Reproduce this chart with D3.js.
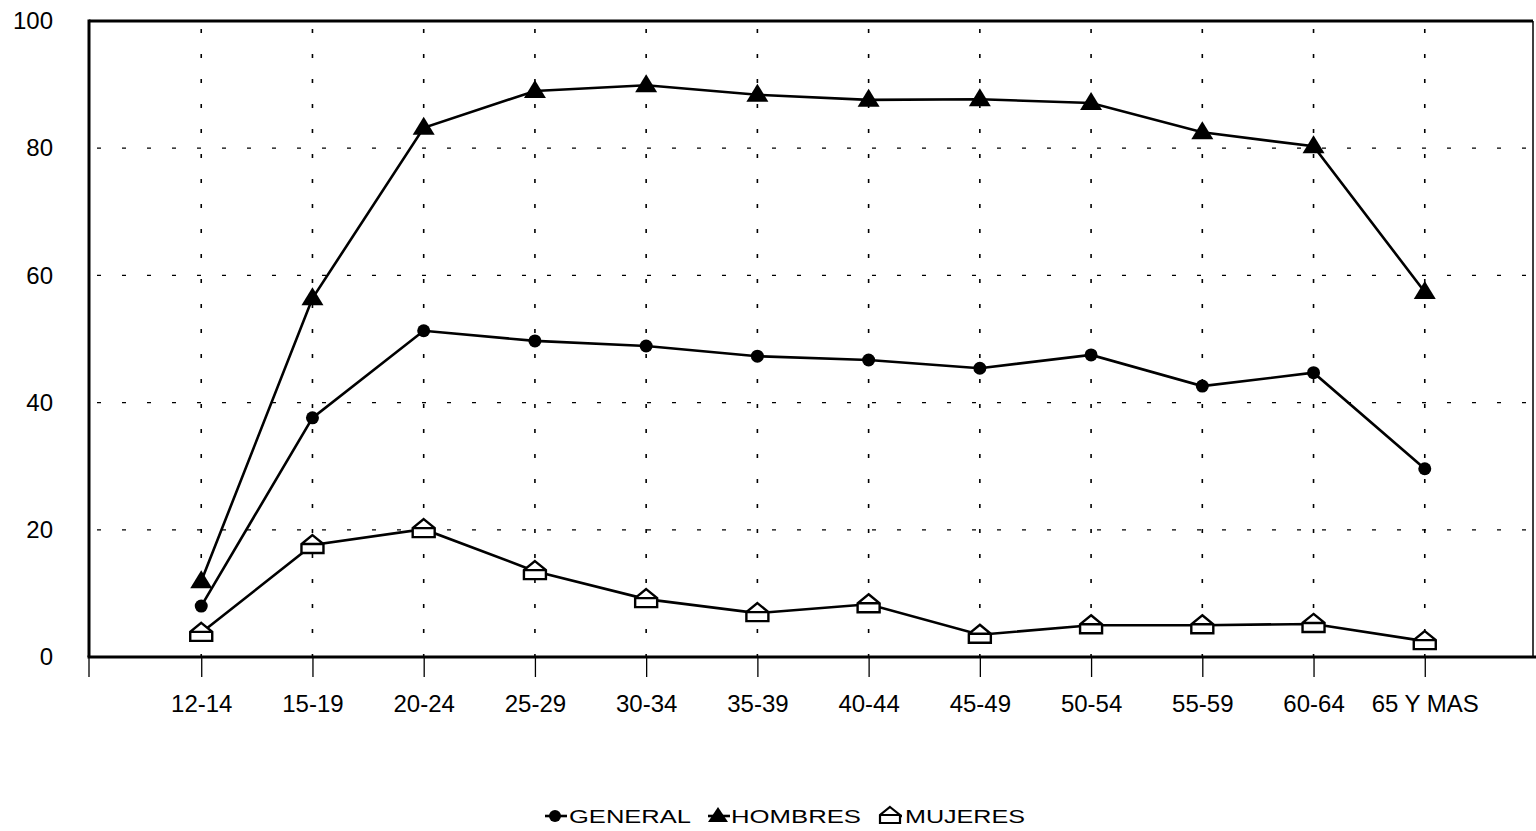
<!DOCTYPE html>
<html>
<head>
<meta charset="utf-8">
<script src="https://cdn.jsdelivr.net/npm/d3@7"></script>
<style>
html,body{margin:0;padding:0;background:#fff;}
svg{display:block;font-family:"Liberation Sans",Arial,sans-serif;}
</style>
</head>
<body>
<svg id="chart" width="1536" height="831"></svg>
<script>
const categories = ["12-14","15-19","20-24","25-29","30-34","35-39","40-44","45-49","50-54","55-59","60-64","65 Y MAS"];
const general = [8.0, 37.6, 51.3, 49.7, 48.9, 47.3, 46.7, 45.4, 47.5, 42.6, 44.7, 29.6];
const hombres = [11.9, 56.4, 83.2, 89.0, 89.9, 88.4, 87.6, 87.7, 87.1, 82.5, 80.3, 57.4];
const mujeres = [3.8, 17.6, 20.1, 13.5, 9.1, 6.9, 8.3, 3.5, 5.0, 5.0, 5.2, 2.5];
const yTicks = [0, 20, 40, 60, 80, 100];
const seriesNames = ["GENERAL", "HOMBRES", "MUJERES"];

const svg = d3.select("#chart");
const pLeft = 89, pRight = 1533, pTop = 21, pBottom = 657;

const x = d3.scalePoint().domain(categories).range([90, 1536]).padding(1);
const y = d3.scaleLinear().domain([0, 100]).range([pBottom, pTop]);

// gridlines
const grid = svg.append("g");
grid.selectAll("line.h").data(yTicks.filter(d => d > 0 && d < 100)).join("line")
  .attr("x1", pLeft).attr("x2", pRight)
  .attr("y1", d => y(d)).attr("y2", d => y(d))
  .attr("stroke", "#000").attr("stroke-width", 1.3)
  .attr("stroke-dasharray", "4,21").attr("stroke-dashoffset", -8);
grid.selectAll("line.v").data(categories).join("line")
  .attr("x1", d => x(d)).attr("x2", d => x(d))
  .attr("y1", pTop).attr("y2", pBottom)
  .attr("stroke", "#000").attr("stroke-width", 1.6)
  .attr("stroke-dasharray", "4,21").attr("stroke-dashoffset", -8);

// frame
svg.append("line").attr("x1", pLeft).attr("x2", pRight).attr("y1", pTop).attr("y2", pTop)
  .attr("stroke", "#000").attr("stroke-width", 3);
svg.append("line").attr("x1", pRight).attr("x2", pRight).attr("y1", pTop).attr("y2", pBottom)
  .attr("stroke", "#000").attr("stroke-width", 1.5);
svg.append("line").attr("x1", pLeft).attr("x2", pLeft).attr("y1", pTop - 1.5).attr("y2", pBottom)
  .attr("stroke", "#000").attr("stroke-width", 3);

// y axis labels
const yAxis = d3.axisLeft(y).tickValues(yTicks).tickSize(0).tickPadding(0);
const gy = svg.append("g").attr("transform", "translate(53,0)").call(yAxis);
gy.select(".domain").remove();
gy.selectAll("text").attr("font-size", 24).attr("fill", "#000")
  .attr("font-family", "'Liberation Sans',Arial,sans-serif");

// x axis
const xAxis = d3.axisBottom(x).tickSize(20).tickPadding(18);
const gx = svg.append("g").attr("transform", `translate(0,${pBottom})`).call(xAxis);
gx.select(".domain").remove();
gx.selectAll(".tick line").attr("stroke", "#000").attr("stroke-width", 1.3);
gx.selectAll("text").attr("font-size", 24).attr("fill", "#000")
  .attr("font-family", "'Liberation Sans',Arial,sans-serif");
svg.append("line").attr("x1", pLeft).attr("x2", pLeft).attr("y1", pBottom).attr("y2", pBottom + 20)
  .attr("stroke", "#000").attr("stroke-width", 1.3);
svg.append("line").attr("x1", pLeft - 1.5).attr("x2", 1536).attr("y1", pBottom).attr("y2", pBottom)
  .attr("stroke", "#000").attr("stroke-width", 3);

// lines
const line = d3.line().x((d, i) => x(categories[i])).y(d => y(d));
const data = [general, hombres, mujeres];
svg.append("g").selectAll("path").data(data).join("path")
  .attr("d", d => line(d)).attr("fill", "none").attr("stroke", "#000").attr("stroke-width", 2.6);

// markers
const housePath = "M0,-10 L11,-1 L11,8 L-11,8 L-11,-1 Z M-11,-1 L11,-1";
const triPath = "M0,-11 L11,7 L-11,7 Z";
function drawMarkers(values, kind) {
  const g = svg.append("g");
  values.forEach((v, i) => {
    const cx = x(categories[i]), cy = y(v);
    if (kind === 0) {
      g.append("circle").attr("cx", cx).attr("cy", cy).attr("r", 6.5).attr("fill", "#000");
    } else if (kind === 1) {
      g.append("path").attr("d", triPath).attr("transform", `translate(${cx},${cy})`).attr("fill", "#000");
    } else {
      g.append("path").attr("d", housePath).attr("transform", `translate(${cx},${cy})`)
        .attr("fill", "#fff").attr("stroke", "#000").attr("stroke-width", 2.4);
    }
  });
}
drawMarkers(general, 0);
drawMarkers(hombres, 1);
drawMarkers(mujeres, 2);

// legend
const legend = svg.append("g").attr("font-size", 18).attr("fill", "#000");
const legendMarkerX = [555, 718, 890];
const legendTextX = [569, 731, 905];
const legendTextW = [122, 130, 120];
const legendY = 816;
seriesNames.forEach((name, i) => {
  const mx = legendMarkerX[i];
  legend.append("line").attr("x1", mx - 10).attr("x2", mx + 12).attr("y1", legendY).attr("y2", legendY)
    .attr("stroke", "#000").attr("stroke-width", 2.6);
  if (i === 0) {
    legend.append("circle").attr("cx", mx).attr("cy", legendY).attr("r", 6).attr("fill", "#000");
  } else if (i === 1) {
    legend.append("path").attr("d", "M0,-9 L10,6 L-10,6 Z").attr("transform", `translate(${mx},${legendY})`).attr("fill", "#000");
  } else {
    legend.append("path").attr("d", "M0,-9 L10,-1 L10,7 L-10,7 L-10,-1 Z M-10,-1 L10,-1")
      .attr("transform", `translate(${mx},${legendY})`)
      .attr("fill", "#fff").attr("stroke", "#000").attr("stroke-width", 2.2);
  }
  legend.append("text").attr("x", legendTextX[i]).attr("y", legendY + 7)
    .attr("textLength", legendTextW[i]).attr("lengthAdjust", "spacingAndGlyphs").text(name);
});
</script>
</body>
</html>
